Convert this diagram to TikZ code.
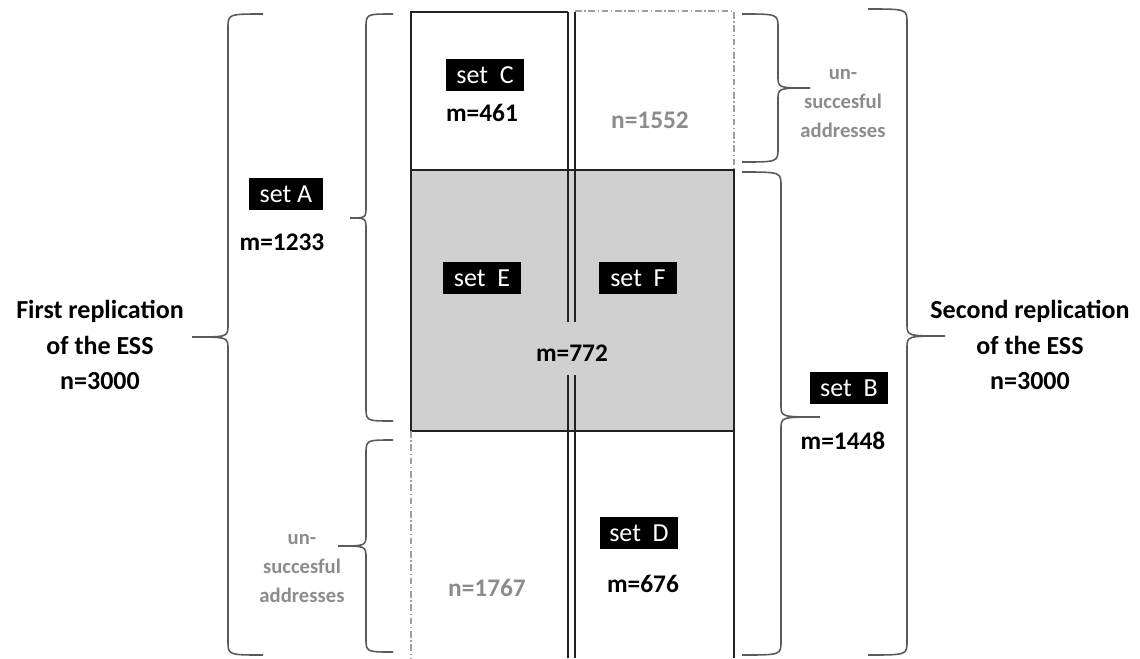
\documentclass[tikz,border=0pt]{standalone}
\usepackage{fontspec}
\setmainfont{Carlito}
\usepackage{xcolor}
\usepackage{tikz}
\definecolor{cellgray}{HTML}{D0D0D0}
\definecolor{linedark}{HTML}{222222}
\definecolor{bracegray}{HTML}{5A5A5A}
\definecolor{txtgray}{HTML}{8C8C8C}
\tikzset{
  setbox/.style={fill=black, text=white, font=\fontsize{19.5}{20}\selectfont,
                 minimum width=59pt, minimum height=24pt, inner sep=0pt},
  cnt/.style={font=\fontsize{19}{20}\selectfont\bfseries},
  lost/.style={font=\fontsize{19}{20}\selectfont\bfseries, text=txtgray},
  lostlbl/.style={font=\fontsize{15.5}{21.75}\selectfont\bfseries, text=txtgray, align=center},
  rep/.style={font=\fontsize{19.5}{26.6}\selectfont\bfseries, align=center},
  sol/.style={draw=linedark, line width=1.8pt},
  dd/.style={draw=gray!75, line width=0.9pt, dash pattern=on 5pt off 2pt on 1pt off 2pt},
  brc/.style={draw=bracegray, line width=1.2pt}
}
% brace: #1 spine x, #2 ends x, #3 tip x, #4 top y, #5 tip y, #6 bottom y
\newcommand{\brc}[6]{%
  \draw[brc] (#2,#4) .. controls (#1,#4) .. (#1,{#4+14}) -- (#1,{#5-12})
    .. controls (#1,#5) .. (#3,#5) .. controls (#1,#5) .. (#1,{#5+12})
    -- (#1,{#6-14}) .. controls (#1,#6) .. (#2,#6);}

\begin{document}
\begin{tikzpicture}[x=0.75pt, y=-0.75pt]
  \useasboundingbox (0,0) rectangle (1140,658);
  % Cells
  \fill[cellgray] (411,170) rectangle (734,431);
  \draw[sol] (568,12) -- (411,12) -- (411,170);
  \draw[sol] (411,170) rectangle (734,431);
  \draw[dd] (575,11) -- (734,11) -- (734,170);
  \draw[dd] (411,431) -- (411,658);
  \draw[sol] (734,431) -- (734,658);
  \draw[sol] (568,12) -- (568,322) (568,375) -- (568,658);
  \draw[sol] (575,12) -- (575,322) (575,375) -- (575,658);
  \node[setbox] (setc) at (485,75) {set\ \ C};
  \node[cnt] (mc) at (482,113) {m=461};
  \node[lost] (nup) at (650,120) {n=1552};
  \node[setbox] (sete) at (482,278) {set\ \ E};
  \node[setbox] (setf) at (638,278) {set\ \ F};
  \node[cnt] (mef) at (572,353) {m=772};
  \node[setbox] (setd) at (639,533) {set\ \ D};
  \node[cnt] (md) at (643,584) {m=676};
  \node[lost] (nlow) at (487,588) {n=1767};
  % Braces, first replication
  \brc{228}{263}{192}{14}{337}{655}
  \brc{366}{393}{350}{14}{218}{421}
  \brc{366}{393}{338}{440}{546}{652}
  \node[setbox, minimum width=56pt] (seta) at (286,194) {set A};
  \node[cnt] (ma) at (282,242) {m=1233};
  \node[lostlbl] (lostl) at (302,568) {un-\\succesful\\addresses};
  \node[rep] (repl) at (100,345) {First replication\\of the ESS\\n=3000};
  % Braces, second replication
  \brc{778}{742}{810}{14}{88}{162}
  \brc{781}{742}{820}{172}{417}{655}
  \brc{907}{868}{945}{9}{336}{655}
  \node[setbox] (setb) at (849,388) {set\ \ B};
  \node[cnt] (mb) at (843,441) {m=1448};
  \node[lostlbl] (lostr) at (843,103) {un-\\succesful\\addresses};
  \node[rep] (repr) at (1030,345) {Second replication\\of the ESS\\n=3000};
\end{tikzpicture}
\end{document}
